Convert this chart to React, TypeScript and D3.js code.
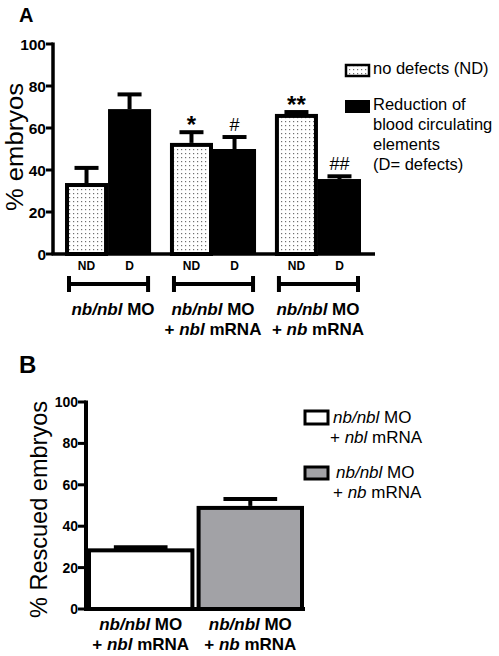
import React from "react";
import * as d3 from "d3";

// ---------- Panel A data ----------
const groupsA = ["MO", "MO+nbl", "MO+nb"];
const conditionsA = ["ND", "D"];
const ndValues = [33.8, 52.9, 66.7];
const ndErrTop = [41, 58, 67.6];
const dValues = [69, 50, 35.7];
const dErrTop = [76, 55.7, 37];
const ndMarks = ["", "*", "**"];
const dMarks = ["", "#", "##"];
const yTicksA = [0, 20, 40, 60, 80, 100];

type Seg = { t: string; i?: boolean };
const groupLabelsA: Seg[][][] = [
  [[{ t: "nb/nbl", i: true }, { t: " MO" }]],
  [
    [{ t: "nb/nbl", i: true }, { t: " MO" }],
    [{ t: "+ " }, { t: "nbl", i: true }, { t: " mRNA" }],
  ],
  [
    [{ t: "nb/nbl", i: true }, { t: " MO" }],
    [{ t: "+ " }, { t: "nb", i: true }, { t: " mRNA" }],
  ],
];
const legendA1 = ["no defects (ND)"];
const legendA2 = ["Reduction of", "blood circulating", "elements", "(D= defects)"];

// ---------- Panel B data ----------
const groupsB = ["nbl", "nb"];
const valuesB = [29.3, 49.8];
const errTopB = [29.8, 53.1];
const fillsB = ["#ffffff", "#a2a2a6"];
const yTicksB = [0, 20, 40, 60, 80, 100];
const groupLabelsB: Seg[][][] = [
  [
    [{ t: "nb/nbl", i: true }, { t: " MO" }],
    [{ t: "+ " }, { t: "nbl", i: true }, { t: " mRNA" }],
  ],
  [
    [{ t: "nb/nbl", i: true }, { t: " MO" }],
    [{ t: "+ " }, { t: "nb", i: true }, { t: " mRNA" }],
  ],
];

const FONT = "'Liberation Sans', Arial, Helvetica, sans-serif";

function Segs({ segs }: { segs: Seg[] }) {
  return (
    <>
      {segs.map((s, k) => (
        <tspan key={k} fontStyle={s.i ? "italic" : "normal"}>
          {s.t}
        </tspan>
      ))}
    </>
  );
}

export default function App() {
  // Panel A scales
  const yA = d3.scaleLinear().domain([0, 100]).range([254, 44]);
  const xA = d3.scaleBand<string>().domain(groupsA).range([65, 361]).paddingInner(0.18);
  const xInner = d3.scaleBand<string>().domain(conditionsA).range([0, xA.bandwidth()]);
  const axisAx = 53;

  // Panel B scales
  const yB = d3.scaleLinear().domain([0, 100]).range([609, 402]);
  const xB = d3.scaleBand<string>().domain(groupsB).range([87, 304]).paddingInner(0.02);
  const axisBx = 86;

  const capW = 24;
  const sw = 4;

  return (
    <svg
      width={499}
      height={656}
      style={{ position: "absolute", left: 0, top: 0, background: "#fff" }}
      fontFamily={FONT}
    >
      <defs>
        <pattern id="dots" width={4} height={4} patternUnits="userSpaceOnUse">
          <rect width={4} height={4} fill="#fff" />
          <rect x={1} y={1} width={1.2} height={1.2} fill="#6f6f6f" />
        </pattern>
      </defs>
      <rect width={499} height={656} fill="#fff" />

      {/* ================= Panel A ================= */}
      <text x={19} y={22} fontSize={20} fontWeight="bold">A</text>

      {/* Y label */}
      <text
        transform={`translate(23,${(44 + 254) / 2 - 2}) rotate(-90)`}
        textAnchor="middle"
        fontSize={23}
        textLength={128}
        lengthAdjust="spacingAndGlyphs"
      >
        % embryos
      </text>

      {/* bars */}
      {groupsA.map((g, i) => {
        const gx = xA(g)!;
        const ndX = gx + xInner("ND")!;
        const dX = gx + xInner("D")!;
        const bw = xInner.bandwidth();
        const ndTop = yA(ndValues[i]);
        const dTop = yA(dValues[i]);
        const ndCx = ndX + bw / 2;
        const dCx = dX + bw / 2;
        const ndE = yA(ndErrTop[i]);
        const dE = yA(dErrTop[i]);
        return (
          <g key={g}>
            {/* ND error */}
            <line x1={ndCx} x2={ndCx} y1={ndTop} y2={ndE} stroke="#000" strokeWidth={4} />
            <line x1={ndCx - capW / 2} x2={ndCx + capW / 2} y1={ndE} y2={ndE} stroke="#000" strokeWidth={4} />
            {/* D error */}
            <line x1={dCx} x2={dCx} y1={dTop} y2={dE} stroke="#000" strokeWidth={4} />
            <line x1={dCx - capW / 2} x2={dCx + capW / 2} y1={dE} y2={dE} stroke="#000" strokeWidth={4} />
            {/* ND bar */}
            <rect
              x={ndX + sw / 2}
              y={ndTop + sw / 2}
              width={bw - sw}
              height={yA(0) - ndTop - sw / 2}
              fill="url(#dots)"
              stroke="#000"
              strokeWidth={sw}
            />
            {/* D bar */}
            <rect x={dX} y={dTop} width={bw} height={yA(0) - dTop} fill="#000" />
            {/* marks */}
            {ndMarks[i] && (
              <text x={ndCx} y={ndE + 0.5} textAnchor="middle" fontSize={24} fontWeight="bold">
                {ndMarks[i]}
              </text>
            )}
            {dMarks[i] && (
              <text x={dCx} y={dE - 6} textAnchor="middle" fontSize={18}>
                {dMarks[i]}
              </text>
            )}
            {/* ND / D labels */}
            <text x={ndCx} y={270} textAnchor="middle" fontSize={12} fontWeight="bold">ND</text>
            <text x={dCx} y={270} textAnchor="middle" fontSize={12} fontWeight="bold">D</text>
            {/* bracket */}
            <g stroke="#000" strokeWidth={4}>
              <line x1={gx + 4} x2={gx + xA.bandwidth() - 3} y1={284} y2={284} />
              <line x1={gx + 4} x2={gx + 4} y1={276} y2={292} />
              <line x1={gx + xA.bandwidth() - 3} x2={gx + xA.bandwidth() - 3} y1={276} y2={292} />
            </g>
            {/* group label */}
            {groupLabelsA[i].map((line, li) => (
              <text
                key={li}
                x={gx + xA.bandwidth() / 2 + (i === 0 ? 5 : 0)}
                y={315 + li * 20}
                textAnchor="middle"
                fontSize={17}
                fontWeight="bold"
              >
                <Segs segs={line} />
              </text>
            ))}
          </g>
        );
      })}

      {/* axes A */}
      <g stroke="#000" strokeWidth={3.5} fill="none">
        <line x1={axisAx} x2={axisAx} y1={yA(100) - 1.5} y2={yA(0)} />
        <line x1={axisAx - 1.5} x2={375} y1={yA(0)} y2={yA(0)} />
        {yTicksA.map((t) => (
          <line key={t} x1={axisAx - 7} x2={axisAx} y1={yA(t)} y2={yA(t)} strokeWidth={3} />
        ))}
      </g>
      {yTicksA.map((t) => (
        <text key={t} x={axisAx - 7} y={yA(t) + 5.5} textAnchor="end" fontSize={15.5} fontWeight="bold">
          {t}
        </text>
      ))}

      {/* legend A */}
      <rect x={346} y={65} width={23} height={11} fill="url(#dots)" stroke="#000" strokeWidth={2.5} />
      {legendA1.map((l, k) => (
        <text key={k} x={373} y={74} fontSize={16.5}>{l}</text>
      ))}
      <rect x={345} y={100} width={25} height={13} fill="#000" />
      {legendA2.map((l, k) => (
        <text key={k} x={373} y={110 + k * 20} fontSize={16.5}>{l}</text>
      ))}

      {/* ================= Panel B ================= */}
      <text x={19} y={373} fontSize={24} fontWeight="bold">B</text>

      <text
        transform={`translate(47,${(402 + 609) / 2 + 4}) rotate(-90)`}
        textAnchor="middle"
        fontSize={24}
        textLength={217}
        lengthAdjust="spacingAndGlyphs"
      >
        % Rescued embryos
      </text>

      {groupsB.map((g, i) => {
        const bx = xB(g)!;
        const bw = xB.bandwidth();
        const top = yB(valuesB[i]);
        const cx = bx + bw / 2;
        const e = yB(errTopB[i]);
        return (
          <g key={g}>
            <line x1={cx} x2={cx} y1={top} y2={e} stroke="#000" strokeWidth={4} />
            <line x1={cx - bw / 4} x2={cx + bw / 4} y1={e} y2={e} stroke="#000" strokeWidth={4} />
            <rect
              x={bx + sw / 2}
              y={top + sw / 2}
              width={bw - sw}
              height={yB(0) - top - sw / 2}
              fill={fillsB[i]}
              stroke="#000"
              strokeWidth={sw}
            />
            {groupLabelsB[i].map((line, li) => (
              <text key={li} x={cx} y={630 + li * 20} textAnchor="middle" fontSize={17} fontWeight="bold">
                <Segs segs={line} />
              </text>
            ))}
          </g>
        );
      })}

      <g stroke="#000" strokeWidth={4} fill="none">
        <line x1={axisBx} x2={axisBx} y1={yB(100) - 1.5} y2={yB(0)} />
        <line x1={axisBx - 2} x2={305} y1={yB(0)} y2={yB(0)} />
        {yTicksB.map((t) => (
          <line key={t} x1={axisBx - 8} x2={axisBx} y1={yB(t)} y2={yB(t)} strokeWidth={3} />
        ))}
      </g>
      {yTicksB.map((t) => (
        <text key={t} x={axisBx - 8} y={yB(t) + 5} textAnchor="end" fontSize={14} fontWeight="bold">
          {t}
        </text>
      ))}

      {/* legend B */}
      <rect x={305} y={411} width={23} height={13} fill={fillsB[0]} stroke="#000" strokeWidth={3} />
      <text x={333} y={423} fontSize={17}><Segs segs={groupLabelsB[0][0]} /></text>
      <text x={330} y={443} fontSize={17}><Segs segs={groupLabelsB[0][1]} /></text>
      <rect x={305} y={467} width={23} height={12} fill={fillsB[1]} stroke="#000" strokeWidth={3} />
      <text x={336} y={478} fontSize={17}><Segs segs={groupLabelsB[1][0]} /></text>
      <text x={333} y={498} fontSize={17}><Segs segs={groupLabelsB[1][1]} /></text>
    </svg>
  );
}
